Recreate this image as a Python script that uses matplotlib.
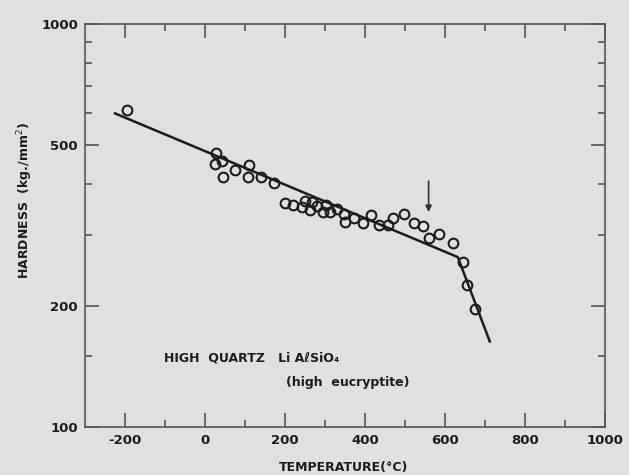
import matplotlib
matplotlib.use("Agg")
import matplotlib.pyplot as plt
from matplotlib.ticker import FixedLocator, NullFormatter, FuncFormatter

# measured hardness points (temperature in C, hardness in kg/mm^2)
temps = [-196, 24, 27, 43, 45, 74, 107, 109, 140, 172,
         199, 219, 242, 249, 262, 267, 281, 294, 302, 312, 331,
         347, 350, 372, 394, 414, 436, 458, 469, 498, 522, 545,
         559, 586, 621, 645, 655, 676]
hardness = [611, 449, 478, 458, 418, 434, 417, 447, 418, 402,
            360, 355, 352, 364, 346, 362, 353, 341, 355, 341, 348,
            338, 323, 330, 320, 336, 317, 317, 331, 337, 320, 315,
            294, 302, 286, 256, 225, 196]

# fitted line, two straight pieces meeting at the kink
fit_temps = [-225, 632, 712]
fit_hardness = [600, 264, 163]

# arrow marking the transition
arrow_temp = 559
arrow_from = 414
arrow_to = 336

x_major = [-200, 0, 200, 400, 600, 800, 1000]
x_minor = [-100, 100, 300, 500, 700, 900]
y_major = [100, 200, 500, 1000]
y_minor = [150, 300, 400, 600, 700, 800, 900]

paper = '#e0e0de'
ink = '#1c1c1c'


def main():
    plt.rcParams['axes.unicode_minus'] = False
    fig = plt.figure(figsize=(6.29, 4.75), dpi=100, facecolor=paper)
    ax = fig.add_axes([85 / 629, 1 - 427 / 475, 520 / 629, 403 / 475])
    ax.set_facecolor(paper)

    ax.plot(fit_temps, fit_hardness, color=ink, lw=1.8, zorder=2)
    ax.plot(temps, hardness, 'o', ms=7, mfc='none', mec=ink, mew=1.5, zorder=3)
    ax.annotate('', xy=(arrow_temp, arrow_to), xytext=(arrow_temp, arrow_from),
                arrowprops=dict(arrowstyle='-|>', color='#333333', lw=1.2,
                                mutation_scale=9))

    ax.set_yscale('log')
    ax.set_xlim(-300, 1000)
    ax.set_ylim(100, 1000)

    ax.xaxis.set_major_locator(FixedLocator(x_major))
    ax.xaxis.set_minor_locator(FixedLocator(x_minor))
    ax.xaxis.set_major_formatter(FuncFormatter(lambda v, p: '%d' % v))
    ax.yaxis.set_major_locator(FixedLocator(y_major))
    ax.yaxis.set_minor_locator(FixedLocator(y_minor))
    ax.yaxis.set_major_formatter(FuncFormatter(lambda v, p: '%d' % v))
    ax.yaxis.set_minor_formatter(NullFormatter())

    ax.tick_params(which='both', direction='in', top=True, right=True,
                   color='#555555', width=1.2, labelsize=9.5, pad=5)
    ax.tick_params(which='major', length=10)
    ax.tick_params(which='minor', length=5)
    for lab in ax.get_xticklabels() + ax.get_yticklabels():
        lab.set_fontweight('bold')
        lab.set_color(ink)
    for s in ax.spines.values():
        s.set_color('#555555')
        s.set_linewidth(1.2)

    ax.text(-103, 148, 'HIGH  QUARTZ   Li AℓSiO₄', fontsize=9, fontweight='bold',
            color=ink, ha='left', va='center')
    ax.text(203, 128.6, '(high  eucryptite)', fontsize=9, fontweight='bold',
            color=ink, ha='left', va='center')

    fig.text(344 / 629, 1 - 467 / 475, 'TEMPERATURE(°C)', fontsize=9,
             fontweight='bold', color=ink, ha='center', va='center')
    fig.text(25 / 629, 1 - 201 / 475, 'HARDNESS  (kg./mm$^2$)', fontsize=9,
             fontweight='bold', color=ink, ha='center', va='center', rotation=90)

    fig.savefig('out.png', dpi=100, facecolor=paper)


if __name__ == '__main__':
    main()
